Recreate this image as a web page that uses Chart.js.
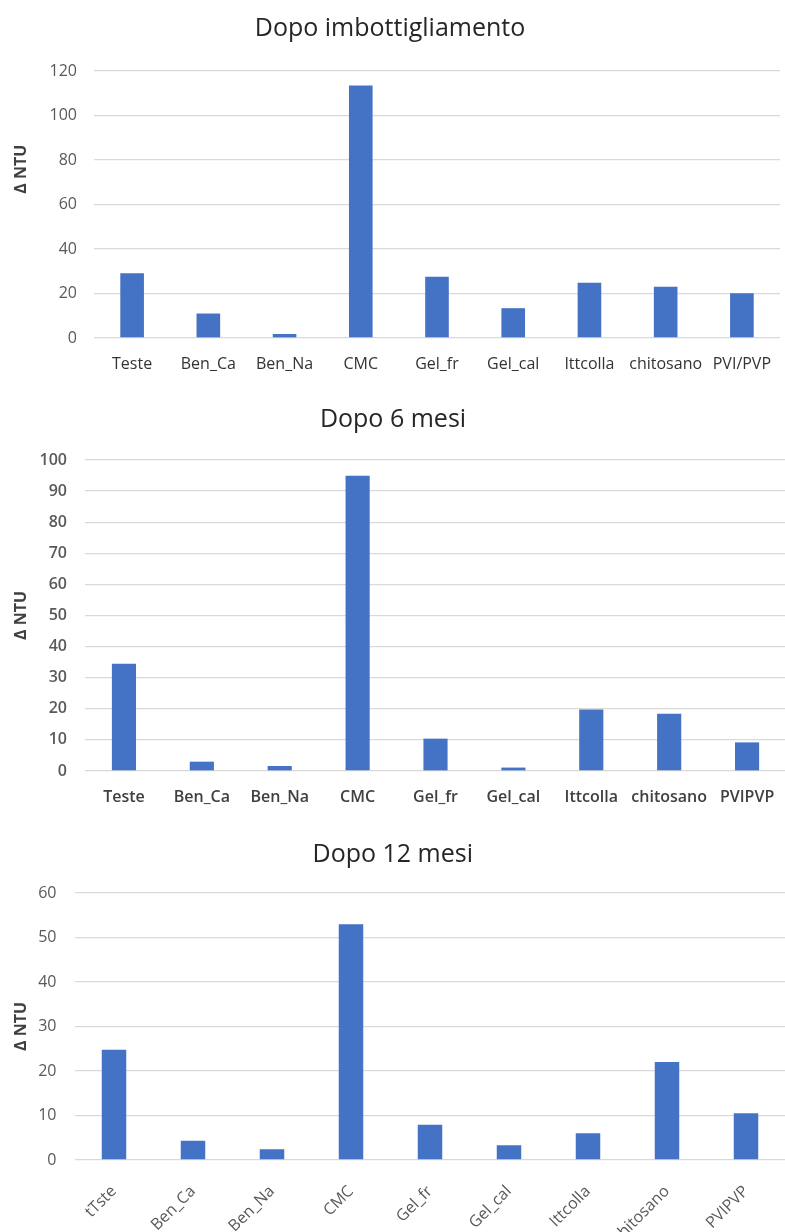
<!DOCTYPE html>
<html>
<head>
<meta charset="utf-8">
<script src="https://cdn.jsdelivr.net/npm/chart.js@4.4.1/dist/chart.umd.min.js"></script>
<style>
  html, body { margin: 0; padding: 0; background: #fff; overflow: hidden; }
  canvas { position: absolute; left: 0; }
</style>
</head>
<body>
<canvas id="c1" width="800" height="395" style="top:0"></canvas>
<canvas id="c2" width="800" height="420" style="top:395px"></canvas>
<canvas id="c3" width="800" height="417" style="top:815px"></canvas>
<script>
// Dati
const labels1 = ["Teste", "Ben_Ca", "Ben_Na", "CMC", "Gel_fr", "Gel_cal", "Ittcolla", "chitosano", "PVI/PVP"];
const values1 = [29.1, 11, 1.8, 113.5, 27.5, 13.4, 24.8, 23, 20.1];

const labels2 = ["Teste", "Ben_Ca", "Ben_Na", "CMC", "Gel_fr", "Gel_cal", "Ittcolla", "chitosano", "PVIPVP"];
const values2 = [34.5, 3, 1.6, 94.9, 10.4, 1.1, 19.8, 18.4, 9.2];

const labels3 = ["tTste", "Ben_Ca", "Ben_Na", "CMC", "Gel_fr", "Gel_cal", "Ittcolla", "chitosano", "PVIPVP"];
const values3 = [24.8, 4.3, 2.4, 53, 7.9, 3.3, 6, 22, 10.5];

const yMax1 = 120, yStep1 = 20;
const yMax2 = 100, yStep2 = 10;
const yMax3 = 60, yStep3 = 10;

const FONT = "'Open Sans', sans-serif";
const BLUE = "#4472C4";
const Y_TITLE = "\u0394 NTU";

function makeChart(id, labels, values, o) {
  return new Chart(document.getElementById(id), {
    type: "bar",
    data: {
      labels,
      datasets: [{
        data: values,
        backgroundColor: BLUE,
        barPercentage: 0.31,
        categoryPercentage: 1
      }]
    },
    options: {
      responsive: false,
      animation: false,
      devicePixelRatio: 1,
      layout: { padding: { left: 0, right: o.right, top: 0, bottom: 0 } },
      plugins: {
        legend: { display: false },
        tooltip: { enabled: false },
        title: {
          display: true,
          text: o.title,
          color: "#262626",
          font: { family: FONT, size: 25, weight: "normal", lineHeight: 1.2 },
          padding: { top: o.titleTop, bottom: o.titleBottom }
        }
      },
      scales: {
        x: {
          grid: { display: false },
          border: { display: false },
          ticks: {
            color: o.xColor,
            font: { family: FONT, size: o.xSize, weight: o.xWeight },
            padding: o.xPad,
            maxRotation: o.rot,
            minRotation: o.rot,
            autoSkip: false
          },
          afterFit: s => { s.height = o.xHeight; }
        },
        y: {
          min: 0,
          max: o.yMax,
          grid: { color: "#d9d9d9", lineWidth: 1.3, drawTicks: false },
          border: { display: false },
          ticks: {
            stepSize: o.yStep,
            color: "#595959",
            font: { family: FONT, size: 16, weight: o.yWeight },
            padding: o.yPad
          },
          title: {
            display: true,
            text: o.yTitle,
            color: "#404040",
            font: { family: FONT, size: 16, weight: "bold", lineHeight: 1.2 },
            padding: { top: 12, bottom: 0 }
          },
          afterFit: s => { s.width = o.yWidth; }
        }
      }
    }
  });
}

// nel primo grafico il titolo dell'asse sta più in alto: spazi iniziali per spostarlo
makeChart("c1", labels1, values1, {
  title: "Dopo imbottigliamento", titleTop: 14, titleBottom: 27,
  right: 20, yWidth: 94, xHeight: 57, yMax: yMax1, yStep: yStep1,
  yPad: 17, xPad: 9, xSize: 16, rot: 0, xColor: "#333333", xWeight: "normal", yWeight: "normal",
  yTitle: " ".repeat(17) + Y_TITLE
});
makeChart("c2", labels2, values2, {
  title: "Dopo 6 mesi", titleTop: 10, titleBottom: 25,
  right: 14, yWidth: 85, xHeight: 44, yMax: yMax2, yStep: yStep2,
  yPad: 18, xPad: 9, xSize: 16, rot: 0, xColor: "#404040", xWeight: "600", yWeight: "600",
  yTitle: Y_TITLE
});
makeChart("c3", labels3, values3, {
  title: "Dopo 12 mesi", titleTop: 25, titleBottom: 23,
  right: 14.5, yWidth: 74.5, xHeight: 72, yMax: yMax3, yStep: yStep3,
  yPad: 18, xPad: 14, xSize: 16, rot: 45, xColor: "#595959", xWeight: "normal", yWeight: "normal",
  yTitle: Y_TITLE
});
</script>
</body>
</html>
